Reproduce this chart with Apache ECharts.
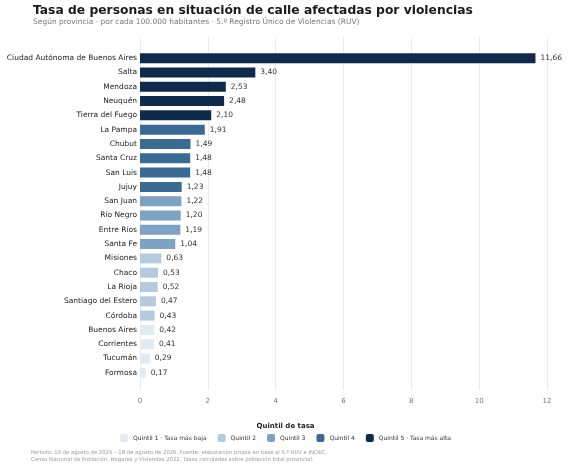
<!DOCTYPE html><html><head><meta charset="utf-8"><script src="https://cdn.jsdelivr.net/npm/echarts@6/dist/echarts.min.js"></script>
<style>body{margin:0}#c{width:571px;height:466px}</style></head><body><div id="c"></div><script>
const provinces=["Ciudad Autónoma de Buenos Aires","Salta","Mendoza","Neuquén","Tierra del Fuego","La Pampa","Chubut","Santa Cruz","San Luis","Jujuy","San Juan","Río Negro","Entre Ríos","Santa Fe","Misiones","Chaco","La Rioja","Santiago del Estero","Córdoba","Buenos Aires","Corrientes","Tucumán","Formosa"];
const rates=[11.66,3.40,2.53,2.48,2.10,1.91,1.49,1.48,1.48,1.23,1.22,1.20,1.19,1.04,0.63,0.53,0.52,0.47,0.43,0.42,0.41,0.29,0.17];
const quintiles=[5,5,5,5,5,4,4,4,4,4,3,3,3,3,2,2,2,2,2,1,1,1,1];
const quintileNames=["Quintil 1 · Tasa más baja","Quintil 2","Quintil 3","Quintil 4","Quintil 5 · Tasa más alta"];
const colors=["#e2eaf2","#b5cadc","#7da2c2","#3b6b93","#0f2a4a"];
const F="DejaVu Sans";
const series=quintileNames.map((n,qi)=>({name:n,type:'bar',stack:'a',barWidth:10,
 data:rates.map((v,i)=>quintiles[i]===qi+1?v:'-'),itemStyle:{color:colors[qi]},
 label:{show:true,position:'right',distance:5,fontFamily:F,fontSize:7.5,color:'#333',formatter:p=>p.value.toFixed(2).replace('.',',')}}));
const c=echarts.init(document.getElementById('c'));
c.setOption({animation:false,
title:[{text:'Tasa de personas en situación de calle afectadas por violencias',left:28,top:0,textStyle:{fontFamily:F,fontSize:12.3,fontWeight:'bold',color:'#1a1a1a'}},
{text:'Según provincia · por cada 100.000 habitantes · 5.º Registro Único de Violencias (RUV)',left:28,top:13,textStyle:{fontFamily:F,fontSize:7.5,fontWeight:'normal',color:'#777'}},
{text:'Quintil de tasa',left:'center',top:418,textStyle:{fontFamily:F,fontSize:7,fontWeight:'bold',color:'#222'}},
{text:'Período: 19 de agosto de 2025 – 18 de agosto de 2026. Fuente: elaboración propia en base al 5.º RUV e INDEC,\nCenso Nacional de Población, Hogares y Viviendas 2022. Tasas calculadas sobre población total provincial.',left:26,top:444,textStyle:{fontFamily:F,fontSize:5.3,lineHeight:7,fontWeight:'normal',color:'#999'}}],
legend:{top:429,left:'center',itemWidth:8,itemHeight:8,itemGap:11,textStyle:{fontFamily:F,fontSize:6,color:'#333'},data:quintileNames},
grid:[{left:140,right:24,top:51,bottom:86,outerBoundsMode:'none'},{left:140,right:24,top:37,bottom:76,outerBoundsMode:'none'}],
xAxis:[{gridIndex:0,type:'value',min:0,max:12,interval:2,show:false,splitLine:{show:false}},
{gridIndex:1,type:'value',min:0,max:12,interval:2,axisLine:{show:false},axisTick:{show:false},axisLabel:{fontFamily:F,fontSize:7,color:'#777'},splitLine:{lineStyle:{color:'#ebebeb'}}}],
yAxis:[{gridIndex:0,type:'category',inverse:true,data:provinces,axisLine:{show:false},axisTick:{show:false},axisLabel:{fontFamily:F,fontSize:7.5,color:'#222',margin:3}},
{gridIndex:1,type:'category',data:['x'],show:false}],
series:series});
</script></body></html>
